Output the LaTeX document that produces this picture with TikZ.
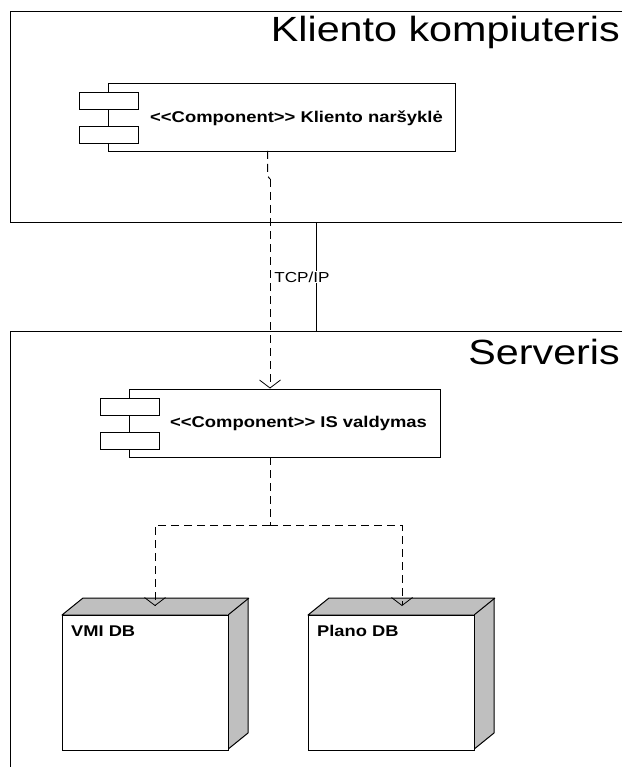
\documentclass[tikz,border=0pt]{standalone}
\usepackage{fontspec}
\setmainfont[FakeStretch=1.18,Ligatures=NoCommon]{Liberation Sans}
\usetikzlibrary{arrows.meta,calc}
\tikzset{
  edgeline/.style={line width=1pt,black},
  compbody/.style={draw,edgeline,fill=white,anchor=north west,inner sep=0pt},
  comptab/.style={draw,edgeline,fill=white,anchor=north west,inner sep=0pt,minimum width=59pt,minimum height=17pt},
  comptext/.style={font=\bfseries\fontsize{15.6}{17}\selectfont,anchor=center,inner sep=0pt},
  title/.style={font=\fontsize{35}{40}\selectfont,anchor=east,inner sep=0pt},
  nodefront/.style={draw,edgeline,fill=white,anchor=north west,inner sep=0pt,minimum width=166pt,minimum height=135pt},
  nodelabel/.style={font=\bfseries\fontsize{15.5}{17}\selectfont,anchor=west,inner sep=0pt},
  nodeside/.style={draw,edgeline,fill=black!25,line join=round},
  dep/.style={edgeline,dash pattern=on 8pt off 5pt},
  deparrow/.style={dep,-{Straight Barb[length=8pt,width=21pt,line width=0.8pt]}},
}
\begin{document}
\begin{tikzpicture}[x=1pt,y=-1pt]
\useasboundingbox (0,0) rectangle (622,767);
% frames
\coordinate (f1tr) at (622,11.5);
\coordinate (f1tl) at (10,11.5);
\coordinate (f1bl) at (10,222.5);
\coordinate (f1br) at (622,222.5);
\coordinate (f2tr) at (622,331.5);
\coordinate (f2tl) at (10,331.5);
\coordinate (f2bl) at (10,767);
\coordinate (linkA) at (316,222.5);
\coordinate (linkB) at (316,331.5);
\draw[edgeline] (f1tr) -- (f1tl) -- (f1bl) -- (f1br);
\draw[edgeline] (f2tr) -- (f2tl) -- (f2bl);
\node[title] (t1) at (620,32) {Kliento kompiuteris};
\node[title] (t2) at (620,352) {Serveris};
% link
\draw[edgeline] (linkA) -- (linkB);
\node[fill=white,inner sep=1pt,font=\fontsize{14.5}{16}\selectfont] (tcp) at (302,277) {TCP/IP};
% components
\node[compbody,minimum width=347pt,minimum height=68pt] (c1) at (108,83) {};
\node[comptab] (c1a) at (79,92) {};
\node[comptab] (c1b) at (79,126) {};
\node[comptext] (c1t) at (296.5,118) {{<}{<}Component{>}{>} Kliento naršyklė};
\node[compbody,minimum width=311pt,minimum height=68pt] (c2) at (129,389) {};
\node[comptab] (c2a) at (100,397.5) {};
\node[comptab] (c2b) at (100,431.5) {};
\node[comptext] (c2t) at (298.5,423.5) {{<}{<}Component{>}{>} IS valdymas};
% deployment nodes
\foreach \n/\x/\lab in {d1/62/VMI DB,d2/308/Plano DB}{
  \draw[nodeside] (\x,615) -- ++(21,-17) -- ++(165,0) -- ++(0,135) -- ++(-21,17) -- ++(0,-135) -- cycle;
  \draw[edgeline] (\x+166,615) -- ++(21,-17);
  \node[nodefront] (\n) at (\x,615) {};
  \node[nodelabel] (\n t) at (\x+9,631) {\lab};
}
% dependencies
\coordinate (j1) at (267.5,176);
\coordinate (j2) at (270,179);
\coordinate (bus) at (270,525);
\coordinate (busL) at (155,525);
\coordinate (busR) at (402,525);
\coordinate (tipC) at (270,388.5);
\coordinate (tipL) at (155,606);
\coordinate (tipR) at (402,606);
\draw[dep] (267.5,151) -- (j1) -- (j2);
\draw[deparrow] (j2) -- (tipC);
\draw[dep] (270,457) -- (bus);
\draw[deparrow] (bus) -- (busL) -- (tipL);
\draw[deparrow] (bus) -- (busR) -- (tipR);
\end{tikzpicture}
\end{document}
